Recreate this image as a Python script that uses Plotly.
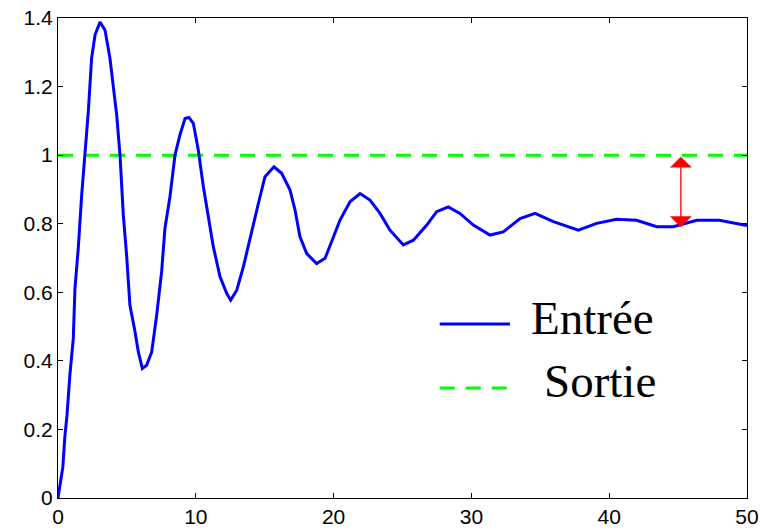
import plotly.graph_objects as go

# Data
t = [0.0, 0.15, 0.35, 0.5, 0.65, 0.87, 1.11, 1.23, 1.47, 1.72, 1.96, 2.2, 2.44, 2.69, 3.05,
     3.41, 3.77, 4.01, 4.26, 4.5, 4.74, 4.98, 5.22, 5.59, 5.83, 6.12, 6.43, 6.8, 7.16, 7.52,
     7.76, 8.13, 8.49, 8.85, 9.22, 9.5, 9.82, 10.18, 10.55, 10.91, 11.27, 11.76, 12.24, 12.53,
     12.97, 13.45, 14.06, 14.54, 15.02, 15.67, 16.23, 16.84, 17.2, 17.56, 18.05, 18.77, 19.38,
     19.74, 20.46, 21.19, 21.92, 22.64, 23.37, 24.09, 25.06, 25.79, 26.76, 27.48, 28.32, 29.17,
     30.14, 31.35, 32.31, 33.53, 34.62, 35.95, 37.76, 39.09, 40.54, 41.99, 43.45, 44.65, 46.35,
     47.99, 49.74, 50.0]
entree = [0.0, 0.04, 0.09, 0.18, 0.24, 0.363, 0.465, 0.611, 0.728, 0.884, 1.0, 1.127, 1.283, 1.351, 1.388,
          1.365, 1.283, 1.195, 1.117, 1.0, 0.825, 0.708, 0.562, 0.485, 0.426, 0.378, 0.387, 0.426, 0.533, 0.66,
          0.786, 0.88, 1.0, 1.059, 1.107, 1.11, 1.093, 1.015, 0.908, 0.82, 0.733, 0.645, 0.597, 0.577,
          0.606, 0.674, 0.781, 0.859, 0.937, 0.966, 0.947, 0.898, 0.84, 0.762, 0.713, 0.684, 0.699,
          0.735, 0.81, 0.864, 0.888, 0.869, 0.83, 0.781, 0.738, 0.752, 0.796, 0.835, 0.849, 0.83,
          0.796, 0.767, 0.776, 0.815, 0.83, 0.806, 0.781, 0.801, 0.813, 0.81, 0.791, 0.791, 0.81,
          0.81, 0.796, 0.795]
sortie_x = [0, 50]
sortie_y = [1.0, 1.0]
arrow_x = 45.2
arrow_top = 1.0
arrow_bottom = 0.79
x_ticks = [0, 10, 20, 30, 40, 50]
y_ticks = [0, 0.2, 0.4, 0.6, 0.8, 1.0, 1.2, 1.4]
y_tick_labels = ["0", "0.2", "0.4", "0.6", "0.8", "1", "1.2", "1.4"]
legend_names = ["Entrée", "Sortie"]

fig = go.Figure()
fig.add_trace(go.Scatter(x=sortie_x, y=sortie_y, mode="lines", name=legend_names[1],
                         line=dict(color="#00FF00", width=3, dash="15px,11px"), showlegend=False))
fig.add_trace(go.Scatter(x=t, y=entree, mode="lines", name=legend_names[0],
                         line=dict(color="#0000FF", width=3), showlegend=False))

# double-headed red arrow
fig.add_annotation(x=arrow_x, y=arrow_bottom, ax=arrow_x, ay=arrow_top, xref="x", yref="y",
                   axref="x", ayref="y", text="", showarrow=True, arrowhead=1, startarrowhead=1,
                   arrowside="end+start", arrowsize=2.8, startarrowsize=2.8, arrowwidth=1.3,
                   arrowcolor="#FF0000")

# manual legend
fig.add_shape(type="line", xref="paper", yref="paper", x0=0.554, x1=0.656, y0=0.3625, y1=0.3625,
              line=dict(color="#0000FF", width=3))
fig.add_shape(type="line", xref="paper", yref="paper", x0=0.554, x1=0.656, y0=0.229, y1=0.229,
              line=dict(color="#00FF00", width=3, dash="15px,11px"))
fig.add_annotation(x=0.683, y=0.375, xref="paper", yref="paper", text=legend_names[0],
                   showarrow=False, xanchor="left", yanchor="middle",
                   font=dict(family="Liberation Serif, Times New Roman, serif", size=47, color="black"))
fig.add_annotation(x=0.702, y=0.244, xref="paper", yref="paper", text=legend_names[1],
                   showarrow=False, xanchor="left", yanchor="middle",
                   font=dict(family="Liberation Serif, Times New Roman, serif", size=47, color="black"))

axis_common = dict(showgrid=False, zeroline=False, showline=True, linecolor="black", linewidth=1,
                   mirror="ticks", ticks="inside", ticklen=5, tickcolor="black", tickwidth=1,
                   automargin=False,
                   tickfont=dict(family="Liberation Sans, Arial, sans-serif", size=21, color="black"))
fig.update_xaxes(range=[0, 50], tickvals=x_ticks, ticktext=[str(v) for v in x_ticks], **axis_common)
fig.update_yaxes(range=[0, 1.4], tickvals=y_ticks, ticktext=y_tick_labels, **axis_common)

fig.update_layout(width=762, height=530, margin=dict(l=58, r=15, t=18, b=32),
                  paper_bgcolor="white", plot_bgcolor="white", showlegend=False)

fig.write_html("out.html", config={"displayModeBar": False},
               post_script="document.body.style.margin='0';")
